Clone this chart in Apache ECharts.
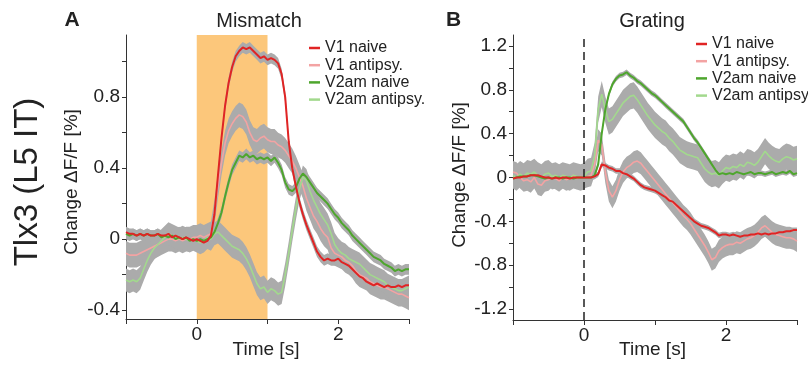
<!DOCTYPE html>
<html><head><meta charset="utf-8">
<script src="https://cdn.jsdelivr.net/npm/echarts@6/dist/echarts.min.js"></script>
<style>html,body{margin:0;padding:0;background:#fff}#c{width:808px;height:367px}</style>
</head><body><div id="c"></div>
<script>
// ---- data ----
const seriesNames = ['V1 naive', 'V1 antipsy.', 'V2am naive', 'V2am antipsy.'];
const tStart = -1, tStep = 0.05, nPts = 81;   // sample times (s)
const xTicks = [-1, 0, 1, 2, 3];
const xLabels = [0, 2];
const yTicksA = [-0.4, -0.2, 0, 0.2, 0.4, 0.6, 0.8, 1.0];
const yLabelsA = [-0.4, 0, 0.4, 0.8];
const yTicksB = [-1.2, -1.0, -0.8, -0.6, -0.4, -0.2, 0, 0.2, 0.4, 0.6, 0.8, 1.0, 1.2];
const yLabelsB = [-1.2, -0.8, -0.4, 0, 0.4, 0.8, 1.2];
const stimWindow = [0, 1];

// Panel A: Mismatch
const A_V1naive = [
0.04,0.03,0.03,0.02,0.03,0.02,0.03,0.02,0.02,0.03,0.02,0.02,0.03,0.01,0.02,0.01,0.00,0.01,0.00,-0.01,
0.00,-0.01,-0.02,-0.01,0.02,0.14,0.36,0.57,0.75,0.88,0.97,1.03,1.06,1.08,1.07,1.08,1.06,1.04,1.02,1.03,
1.01,1.02,1.01,0.99,0.93,0.80,0.55,0.40,0.30,0.21,0.14,0.08,0.03,-0.02,-0.07,-0.10,-0.12,-0.11,-0.12,-0.12,
-0.11,-0.13,-0.14,-0.15,-0.17,-0.19,-0.21,-0.22,-0.24,-0.25,-0.26,-0.25,-0.26,-0.27,-0.26,-0.27,-0.27,-0.26,-0.27,-0.26,
-0.26];
const A_V1antipsy = [
-0.08,-0.09,-0.09,-0.09,-0.08,-0.07,-0.06,-0.05,-0.04,-0.03,-0.02,-0.01,0.00,0.00,-0.01,0.00,-0.01,0.00,0.00,0.01,
0.01,0.02,0.01,0.02,0.03,0.15,0.30,0.43,0.54,0.61,0.65,0.68,0.70,0.69,0.66,0.60,0.56,0.55,0.57,0.58,
0.56,0.55,0.55,0.53,0.52,0.50,0.47,0.44,0.40,0.35,0.30,0.23,0.18,0.13,0.10,0.06,0.03,0.01,-0.05,-0.08,
-0.09,-0.10,-0.12,-0.13,-0.15,-0.18,-0.20,-0.21,-0.22,-0.24,-0.25,-0.26,-0.27,-0.27,-0.28,-0.29,-0.30,-0.31,-0.31,-0.32,
-0.33];
const A_V2naive = [
0.03,0.02,0.03,0.02,0.03,0.02,0.03,0.02,0.02,0.03,0.01,0.02,0.01,0.02,0.00,0.01,0.00,0.01,-0.01,0.00,
-0.01,0.00,-0.01,0.00,0.01,0.04,0.09,0.15,0.24,0.32,0.39,0.43,0.47,0.46,0.48,0.46,0.47,0.45,0.46,0.45,
0.46,0.44,0.46,0.43,0.39,0.32,0.28,0.27,0.29,0.34,0.37,0.35,0.32,0.29,0.26,0.24,0.22,0.20,0.17,0.14,
0.12,0.09,0.07,0.05,0.02,0.00,-0.02,-0.04,-0.06,-0.08,-0.10,-0.11,-0.12,-0.14,-0.15,-0.16,-0.18,-0.17,-0.18,-0.17,
-0.17];
const A_V2antipsy = [
-0.23,-0.24,-0.23,-0.24,-0.22,-0.17,-0.12,-0.08,-0.05,-0.03,-0.01,0.01,0.03,0.02,0.01,0.00,0.01,0.00,-0.01,0.00,
-0.01,-0.02,-0.01,0.01,0.00,0.03,0.04,0.02,0.00,-0.02,-0.04,-0.05,-0.06,-0.08,-0.11,-0.15,-0.20,-0.25,-0.28,-0.27,
-0.30,-0.28,-0.29,-0.31,-0.30,-0.20,-0.08,0.05,0.17,0.28,0.35,0.33,0.27,0.22,0.18,0.14,0.11,0.08,0.03,-0.03,
-0.06,-0.08,-0.09,-0.11,-0.12,-0.13,-0.14,-0.16,-0.18,-0.20,-0.21,-0.22,-0.23,-0.24,-0.26,-0.27,-0.28,-0.29,-0.29,-0.28,
-0.27];
const A_sem = [0.03, 0.07, 0.03, 0.065];

// Panel B: Grating
const B_V1naive = [
-0.01,0.00,0.00,0.01,0.01,0.02,0.02,0.02,0.01,0.00,0.00,-0.01,0.00,-0.01,0.00,0.00,-0.01,0.00,0.00,0.00,
0.00,0.00,0.00,0.01,0.03,0.12,0.11,0.09,0.08,0.06,0.06,0.04,0.03,0.01,-0.01,-0.04,-0.07,-0.09,-0.10,-0.11,
-0.12,-0.14,-0.16,-0.18,-0.21,-0.22,-0.25,-0.28,-0.31,-0.34,-0.37,-0.40,-0.42,-0.44,-0.45,-0.46,-0.48,-0.50,-0.53,-0.52,
-0.52,-0.53,-0.52,-0.53,-0.54,-0.53,-0.53,-0.52,-0.52,-0.51,-0.52,-0.51,-0.52,-0.51,-0.51,-0.50,-0.50,-0.49,-0.49,-0.48,
-0.48];
const B_V1antipsy = [
0.05,0.04,0.00,-0.03,-0.02,-0.04,0.00,-0.06,-0.07,-0.03,-0.02,0.01,-0.01,-0.03,0.00,-0.02,-0.01,0.02,-0.01,0.01,
0.00,0.01,0.02,0.12,0.34,0.30,0.05,-0.12,-0.18,-0.12,-0.02,0.05,0.09,0.11,0.14,0.15,0.13,0.09,0.05,0.01,
-0.03,-0.07,-0.11,-0.15,-0.19,-0.23,-0.27,-0.31,-0.35,-0.38,-0.42,-0.47,-0.52,-0.57,-0.62,-0.68,-0.75,-0.73,-0.67,-0.64,
-0.62,-0.61,-0.61,-0.59,-0.60,-0.58,-0.56,-0.55,-0.53,-0.50,-0.46,-0.44,-0.47,-0.50,-0.52,-0.53,-0.54,-0.55,-0.55,-0.56,
-0.58];
const B_V2naive = [
-0.01,0.00,0.01,0.01,0.01,0.02,0.02,0.01,0.00,-0.01,0.00,-0.01,0.00,0.00,-0.01,0.00,0.00,-0.01,0.00,0.00,
0.00,0.00,0.00,0.02,0.12,0.40,0.62,0.76,0.85,0.90,0.93,0.94,0.96,0.93,0.91,0.88,0.86,0.83,0.80,0.77,
0.75,0.72,0.69,0.66,0.63,0.60,0.57,0.54,0.51,0.46,0.41,0.36,0.32,0.27,0.22,0.17,0.12,0.07,0.03,0.04,
0.03,0.04,0.03,0.05,0.04,0.03,0.04,0.05,0.03,0.04,0.04,0.03,0.04,0.05,0.03,0.04,0.05,0.04,0.06,0.03,
0.04];
const B_V2antipsy = [
0.02,0.00,0.03,0.01,0.04,0.03,0.05,0.02,0.00,0.03,0.04,0.01,0.02,0.00,0.02,0.01,0.00,0.02,0.01,0.00,
0.01,0.05,0.06,0.20,0.62,0.76,0.62,0.51,0.53,0.58,0.63,0.68,0.71,0.74,0.75,0.71,0.66,0.61,0.56,0.52,
0.48,0.45,0.42,0.40,0.36,0.33,0.29,0.25,0.23,0.21,0.20,0.19,0.18,0.13,0.08,0.05,0.03,0.04,0.02,0.06,
0.09,0.08,0.10,0.09,0.12,0.10,0.14,0.13,0.11,0.14,0.19,0.24,0.20,0.17,0.15,0.14,0.17,0.19,0.18,0.16,
0.17];
const B_sem = [0.025, 0.1, 0.025, 0.12];

// ---- style ----
const FONT = "'Liberation Sans', Arial, sans-serif";
const lineColors = ['#e02424', '#f3a3a3', '#4ea62d', '#a2d98d'];
const lineWidths = [2, 1.6, 2, 1.6];
const bandColor = '#ababab';
const stimColor = '#fcc77b';
const axisColor = '#333';
const textColor = '#222';

const times = [];
for (let i = 0; i < nPts; i++) times.push(+(tStart + i * tStep).toFixed(2));

function fmt(v) { return Math.abs(v) < 1e-9 ? '0' : String(+v.toFixed(1)); }

function panel(idx, data, sem) {
  const out = [];
  // SEM bands as polygons mapped through the axes
  data.forEach((vals, k) => {
    out.push({
      type: 'custom', xAxisIndex: idx, yAxisIndex: idx, z: 1, silent: true, clip: true,
      data: times.map((x, i) => [x, vals[i]]),
      renderItem: function (params, api) {
        if (params.dataIndex !== 0) return null;
        const pts = [];
        for (let i = 0; i < times.length; i++) pts.push(api.coord([times[i], vals[i] + sem[k]]));
        for (let i = times.length - 1; i >= 0; i--) pts.push(api.coord([times[i], vals[i] - sem[k]]));
        return { type: 'polygon', shape: { points: pts }, style: { fill: bandColor } };
      }
    });
  });
  // mean lines
  [1, 3, 2, 0].forEach(k => {
    out.push({
      type: 'line', name: seriesNames[k], xAxisIndex: idx, yAxisIndex: idx, z: 3,
      showSymbol: false, color: lineColors[k],
      lineStyle: { color: lineColors[k], width: lineWidths[k] },
      data: times.map((x, i) => [x, data[k][i]])
    });
  });
  return out;
}

function xAxis(idx) {
  return {
    type: 'value', gridIndex: idx, min: -1, max: 3,
    axisLine: { show: true, onZero: false, lineStyle: { color: axisColor, width: 1 } },
    axisTick: { show: true, length: 5, customValues: xTicks, lineStyle: { color: axisColor } },
    axisLabel: { customValues: xLabels, formatter: fmt, fontSize: 19, color: textColor, fontFamily: FONT, margin: 6 },
    splitLine: { show: false }
  };
}
function yAxis(idx, min, max, ticks, labels) {
  return {
    type: 'value', gridIndex: idx, min: min, max: max,
    axisLine: { show: true, onZero: false, lineStyle: { color: axisColor, width: 1 } },
    axisTick: { show: true, length: 4, customValues: ticks, lineStyle: { color: axisColor } },
    axisLabel: { customValues: labels, formatter: fmt, fontSize: 19, color: textColor, fontFamily: FONT, margin: 6 },
    splitLine: { show: false }
  };
}

const series = []
  .concat([{
    type: 'line', xAxisIndex: 0, yAxisIndex: 0, z: 0, data: [], silent: true,
    markArea: { silent: true, itemStyle: { color: stimColor }, data: [[{ xAxis: stimWindow[0] }, { xAxis: stimWindow[1] }]] }
  }])
  .concat(panel(0, [A_V1naive, A_V1antipsy, A_V2naive, A_V2antipsy], A_sem))
  .concat([{
    type: 'line', xAxisIndex: 1, yAxisIndex: 1, z: 4, data: [], silent: true,
    markLine: { silent: true, symbol: ['none', 'none'], label: { show: false },
      lineStyle: { color: '#222', type: [8, 5], width: 1.5 }, data: [{ xAxis: 0 }] }
  }])
  .concat(panel(1, [B_V1naive, B_V1antipsy, B_V2naive, B_V2antipsy], B_sem));

function txt(text, x, y, size, opts) {
  return Object.assign({
    type: 'text', x: x, y: y,
    style: { text: text, x: 0, y: 0, align: 'center', verticalAlign: 'middle',
      font: (opts && opts.bold ? 'bold ' : '') + size + 'px ' + FONT, fill: textColor }
  }, opts && opts.rot ? { rotation: Math.PI / 2 } : {});
}

const legendCommon = {
  orient: 'vertical', padding: 0, itemWidth: 11, itemHeight: 2.5, itemGap: 1.2, icon: 'rect',
  data: seriesNames,
  textStyle: { fontSize: 16, lineHeight: 16, color: textColor, fontFamily: FONT }
};

const chart = echarts.init(document.getElementById('c'), null, { renderer: 'canvas' });
chart.setOption({
  animation: false,
  grid: [
    { left: 126, top: 35, width: 283, height: 284 },
    { left: 513, top: 35, width: 284, height: 285 }
  ],
  xAxis: [xAxis(0), xAxis(1)],
  yAxis: [yAxis(0, -0.45, 1.15, yTicksA, yLabelsA), yAxis(1, -1.3, 1.3, yTicksB, yLabelsB)],
  legend: [
    Object.assign({ left: 309, top: 40 }, legendCommon),
    Object.assign({ left: 696, top: 36 }, legendCommon)
  ],
  series: series,
  graphic: [
    txt('A', 72, 20, 21, { bold: true }),
    txt('B', 453.5, 20, 21, { bold: true }),
    txt('Mismatch', 259, 21, 20),
    txt('Grating', 652, 21, 20),
    txt('Change \u0394F/F [%]', 72, 182, 19, { rot: true }),
    txt('Change \u0394F/F [%]', 460, 175, 19, { rot: true }),
    txt('Time [s]', 266, 350, 19),
    txt('Time [s]', 652.5, 350, 19),
    txt('Tlx3 (L5 IT)', 28, 182, 33, { rot: true })
  ]
});
</script></body></html>
